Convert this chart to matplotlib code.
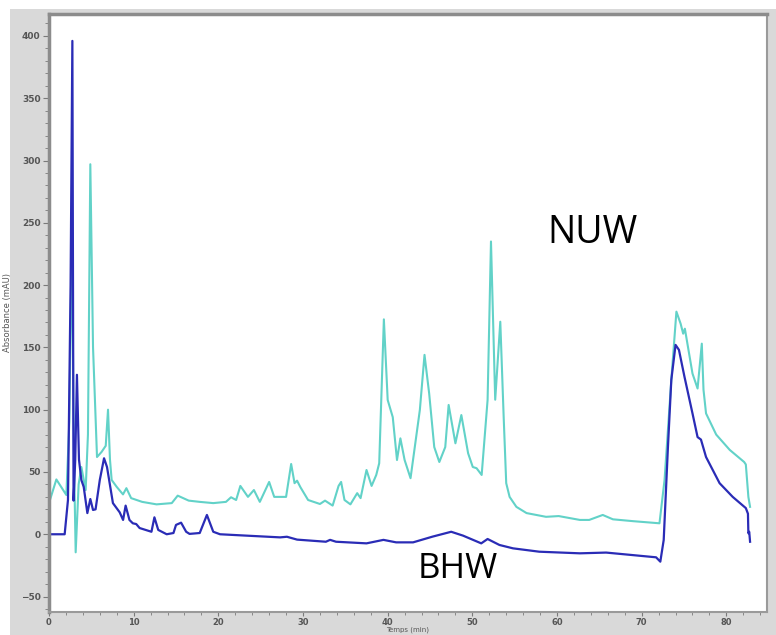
import matplotlib
matplotlib.use("Agg")
import matplotlib.pyplot as plt
from matplotlib.patches import Rectangle
from matplotlib.ticker import MultipleLocator

# NUW trace (turquoise), time in min / absorbance in mAU
nuw_t = [0.0, 0.87, 2.05, 2.4, 2.7, 2.95, 3.15, 3.5, 3.82, 4.33, 4.6, 4.88, 5.2,
         5.67, 6.2, 6.7, 6.97, 7.2, 7.4, 8.0, 8.74, 9.14, 9.7, 11.0, 12.7, 14.5,
         15.2, 16.5, 17.8, 19.4, 20.9, 21.5, 22.1, 22.6, 23.5, 24.2, 24.9, 26.0,
         26.6, 28.0, 28.6, 29.0, 29.3, 29.7, 30.6, 32.0, 32.6, 33.5, 34.2, 34.5,
         34.9, 35.6, 36.4, 36.8, 37.5, 38.1, 38.65, 39.0, 39.55, 40.0, 40.6, 41.1,
         41.5, 42.0, 42.7, 43.8, 44.35, 44.9, 45.5, 46.1, 46.8, 47.2, 48.0, 48.7,
         49.5, 50.05, 50.5, 51.1, 51.8, 52.2, 52.7, 53.3, 53.7, 54.0, 54.4, 55.2,
         56.4, 58.7, 60.2, 62.7, 63.8, 65.4, 66.6, 69.0, 72.1, 72.7, 73.5, 74.1,
         74.6, 74.9, 75.1, 76.0, 76.6, 77.1, 77.3, 77.6, 78.8, 80.4, 82.1, 82.3,
         82.6, 82.8]
nuw_v = [25, 44, 31.5, 90, 240, 60, -14.5, 40, 54, 35.5, 80, 297, 150,
         62, 66, 71, 100, 60, 43.6, 38, 32, 37, 29, 26, 24, 25,
         31, 27, 26, 25, 26, 29.7, 27.5, 38.8, 30, 35.5, 26, 42,
         30, 30, 56.4, 41, 43, 37.7, 27.5, 24.3, 27, 23, 38.8, 42,
         27.5, 24, 33, 29, 51.6, 38.8, 47.6, 57, 172.5, 107.8, 94, 59.6,
         77, 59.6, 45, 99.8, 144, 113, 70, 58, 70, 103.8, 73, 95.7,
         65, 54, 53, 47.6, 107.8, 235, 108, 170.6, 94, 41, 30, 22,
         17, 14, 14.6, 11.5, 11.5, 15.5, 12, 10.5, 8.8, 43.6, 124, 178.7,
         169, 161, 165, 129, 117, 153, 116, 97, 80, 67.7, 58, 56,
         30, 22]

# BHW trace (dark blue)
bhw_t = [0.0, 1.85, 2.24, 2.55, 2.76, 2.9, 3.1, 3.3, 3.54, 3.82, 4.1, 4.53,
         4.88, 5.2, 5.5, 6.0, 6.5, 6.85, 7.55, 8.35, 8.75, 9.05, 9.5, 9.9,
         10.3, 10.7, 12.1, 12.45, 12.9, 13.9, 14.7, 15.0, 15.6, 16.2, 16.6,
         17.8, 18.65, 19.4, 20.2, 23.3, 27.3, 28.1, 29.3, 32.7, 33.2, 33.9,
         37.5, 39.5, 41.0, 43.0, 45.3, 47.5, 48.9, 51.05, 51.8, 53.2, 54.8,
         57.9, 62.7, 65.8, 71.7, 72.2, 72.6, 73.1, 73.5, 74.0, 74.4, 75.05,
         76.0, 76.6, 77.0, 77.6, 79.2, 80.75, 82.3, 82.55, 82.6, 82.7, 82.8]
bhw_v = [0, 0, 27.5, 200, 396, 27, 60, 128, 60, 43.6, 38, 17,
         28.3, 19.5, 20, 43.6, 61, 54, 25, 17.6, 11.5, 23, 11.5, 8.8,
         8.2, 5, 2, 13.6, 3.5, 0, 1, 7.5, 9.3, 2, 0.3,
         1, 15.5, 2, 0, -1.1, -2.5, -2, -4.3, -6, -4.5, -6,
         -7.3, -4.5, -6.5, -6.5, -1.9, 2, -1.1, -7.3, -3.8, -8.6, -11.3,
         -14, -15.3, -14.7, -18.5, -22, -4.6, 70, 124, 152, 148, 126.5,
         97, 78, 76, 62, 41, 30, 21, 16.5, 0.8, 2, -6]

NUW_COLOR = "#62d2c8"
BHW_COLOR = "#2a2cb6"

fig = plt.figure(figsize=(7.76, 6.35), dpi=100, facecolor="white")
# grey panel behind the plot, like the instrument software window
fig.patches.append(Rectangle((10 / 776, 0), 1 - 10 / 776, 1 - 9 / 635,
                             transform=fig.transFigure, facecolor="#d9d9d9",
                             edgecolor="none", zorder=-10))

ax = fig.add_axes([49 / 776, 23 / 635, 718 / 776, 598 / 635])
ax.set_facecolor("white")

ax.plot(nuw_t, nuw_v, color=NUW_COLOR, linewidth=1.5)
ax.plot(bhw_t, bhw_v, color=BHW_COLOR, linewidth=1.6)

ax.set_xlim(0, 84.8)
ax.set_ylim(-62.4, 417.6)

ax.xaxis.set_major_locator(MultipleLocator(10))
ax.xaxis.set_minor_locator(MultipleLocator(2))
ax.yaxis.set_major_locator(MultipleLocator(50))
ax.yaxis.set_minor_locator(MultipleLocator(10))

ax.tick_params(which="both", direction="out", color="#7a7a7a",
               labelcolor="#555555", labelsize=6.5)
ax.tick_params(which="major", length=4, width=0.8, pad=2)
ax.tick_params(which="minor", length=3, width=0.6)
ax.tick_params(axis="x", which="major", length=3, pad=1, labelsize=6)
ax.tick_params(axis="x", which="minor", length=2.5)
for lbl in ax.get_xticklabels() + ax.get_yticklabels():
    lbl.set_fontweight("bold")

for side in ["top", "left"]:
    ax.spines[side].set_color("#8c8c8c")
    ax.spines[side].set_linewidth(2.5)
for side in ["bottom", "right"]:
    ax.spines[side].set_color("#9a9a9a")
    ax.spines[side].set_linewidth(1.5)

ax.set_xlabel("Temps (min)", fontsize=5, color="#555555", labelpad=0)
ax.set_ylabel("Absorbance (mAU)", fontsize=6, color="#555555", labelpad=6)

ax.text(64.2, 241.8, "NUW", fontsize=27, family="Open Sans",
        ha="center", va="center", color="black")
ax.text(48.25, -27.8, "BHW", fontsize=25, family="Open Sans",
        ha="center", va="center", color="black")

fig.savefig("out.png", dpi=100, facecolor=fig.get_facecolor())
